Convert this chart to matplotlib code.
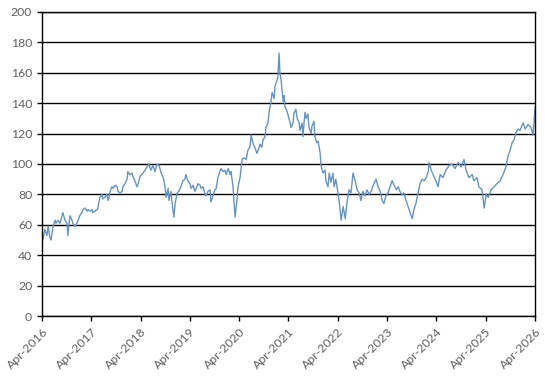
import numpy as np
import pandas as pd
import matplotlib
matplotlib.use("Agg")
import matplotlib.pyplot as plt
import matplotlib.dates as mdates

# months after Apr-2016 and the value at that point
months = [
    0.0, 0.2, 0.7, 1.2, 1.5, 1.9, 2.2, 2.7, 3.2, 3.4, 3.9, 4.4, 4.9, 5.1, 5.6,
    6.1, 6.3, 6.8, 7.3, 7.5, 8.0, 8.5, 8.8, 9.2, 9.7, 10.0, 10.5, 11.0, 11.2,
    11.7, 12.2, 12.4, 12.9, 13.4, 13.6, 14.1, 14.6, 14.8, 15.3, 15.8, 16.1,
    16.6, 17.0, 17.3, 17.8, 18.3, 18.5, 19.0, 19.5, 19.7, 20.2, 20.7, 20.9,
    21.4, 21.9, 22.1, 22.6, 23.1, 23.4, 23.9, 24.3, 24.6,
    25.1, 25.6, 26.0, 26.5, 27.0, 27.5, 28.0, 28.5, 29.0, 29.5, 29.9, 30.2,
    30.7, 30.9, 31.4, 31.6, 32.1, 32.4, 32.9, 33.3, 33.8, 34.3, 34.8, 35.0,
    35.5, 36.0, 36.3, 36.8, 37.2, 37.5, 38.0, 38.5, 38.7, 39.2, 39.7, 39.9,
    40.4, 40.9, 41.1, 41.6, 42.1, 42.4, 42.8, 43.3, 43.6, 44.1, 44.5, 44.8,
    45.3, 45.8, 46.0, 46.5, 46.7, 47.0, 47.5, 47.7, 48.2,
    48.7, 49.2, 49.7, 50.1, 50.6, 50.9, 51.4, 51.8, 52.3, 52.6, 53.1, 53.5,
    53.8, 54.3, 54.5, 55.0, 55.3, 55.7, 56.0, 56.5, 56.7, 57.2, 57.4, 57.7,
    57.9, 58.2, 58.4, 58.7, 58.9, 59.1, 59.6, 59.9, 60.4, 60.6, 61.1, 61.3,
    61.8, 62.1, 62.6, 62.8, 63.3, 63.5, 64.0, 64.3, 64.7, 65.0, 65.5, 65.7,
    66.2, 66.4, 66.9, 67.2, 67.7, 67.9, 68.4, 68.9, 69.1, 69.6, 69.9, 70.3,
    70.8, 71.1,
    71.5, 71.8, 72.3, 72.8, 73.3, 73.8, 74.2, 74.7, 75.2, 75.7, 76.2, 76.7,
    77.2, 77.6, 78.1, 78.6, 79.1, 79.6, 80.1, 80.6, 81.3, 81.8, 82.3, 82.8,
    83.2, 83.7, 84.2, 84.7, 85.2, 85.7, 86.2, 86.7, 87.1, 87.6, 88.1, 88.6,
    89.1, 89.6, 90.1, 90.5, 91.0, 91.5, 92.0, 92.5, 93.0, 93.5, 94.0, 94.2,
    94.7, 95.2, 95.7,
    96.4, 96.9, 97.6, 98.3, 99.1, 99.8, 100.5, 101.3, 102.0, 102.7, 103.2,
    103.9, 104.7, 105.1, 105.9, 106.3, 107.1, 107.6, 108.1, 108.6, 109.3,
    110.0, 110.7, 111.5, 112.2, 112.9, 113.4, 113.9, 114.4, 114.9, 115.4,
    115.9, 116.3, 117.1, 117.6, 118.3, 119.0, 119.5, 120.0,
]
values = [
    55, 50, 57, 53, 59, 52, 50, 59, 63, 61, 63, 61, 66, 68, 63,
    61, 53, 66, 63, 61, 59, 61, 63, 66, 68, 70, 71, 69, 70,
    69, 70, 68, 69, 70, 71, 78, 80, 77, 78, 80, 76,
    82, 85, 84, 86, 85, 82, 81, 82, 85, 87, 90, 95,
    93, 94, 92, 89, 85, 87, 92, 93, 94,
    96, 98, 100, 96, 99, 95, 100, 99, 94, 91, 86, 78,
    84, 76, 82, 76, 65, 74, 81, 82, 85, 89, 90, 93,
    89, 87, 84, 86, 82, 84, 87, 86, 84, 85, 80, 79,
    82, 83, 75, 79, 83, 84, 91, 95, 97, 95, 96, 93,
    97, 93, 95, 85, 76, 65, 78, 85, 91,
    103, 104, 103, 109, 111, 119, 113, 111, 107, 109, 113, 111,
    116, 118, 124, 127, 135, 140, 147, 143, 151, 155, 157, 173,
    160, 155, 149, 141, 145, 138, 135, 132, 127, 124, 127, 133,
    136, 130, 127, 122, 127, 118, 134, 130, 133, 124, 120, 125,
    128, 118, 114, 115, 107, 99, 94, 96, 89, 85, 94, 88,
    94, 85,
    90, 85, 76, 63, 72, 64, 74, 83, 81, 94, 89, 83,
    81, 76, 82, 79, 83, 80, 82, 86, 90, 85, 82, 76,
    74, 79, 81, 85, 89, 86, 83, 85, 82, 80, 81, 76,
    72, 68, 64, 70, 74, 81, 87, 90, 89, 91, 95, 101,
    96, 93, 90,
    85, 93, 91, 96, 99, 100, 97, 101, 98, 103, 96,
    91, 93, 89, 91, 85, 83, 71, 80, 78, 83,
    85, 87, 89, 93, 98, 105, 109, 114, 116, 121,
    123, 122, 127, 123, 126, 124, 119, 137,
]

start = pd.Timestamp("2016-04-01")
dates = start + pd.to_timedelta(np.array(months) * 30.4375, unit="D")
tick_dates = pd.date_range("2016-04-01", "2026-04-01", freq="12MS")

plt.rcParams["font.family"] = ["Lato", "DejaVu Sans"]

fig = plt.figure(figsize=(5.45, 3.81), dpi=100)
ax = fig.add_axes([0.077, 0.1706, 0.9047, 0.798])

ax.plot(dates, values, color="#6494c4", linewidth=1.0)

ax.set_ylim(0, 200)
ax.set_yticks(range(0, 201, 20))
ax.set_xlim(tick_dates[0], tick_dates[-1])
ax.set_xticks(tick_dates)
ax.xaxis.set_major_formatter(mdates.DateFormatter("%b-%Y"))

ax.grid(axis="y", color="black", linewidth=1.0)
ax.set_axisbelow(True)
for s in ax.spines.values():
    s.set_color("black")
    s.set_linewidth(1.0)

ax.tick_params(axis="both", colors="black", labelcolor="#606060",
               labelsize=8.8, length=3.5, width=1.0, direction="out")
plt.setp(ax.get_xticklabels(), rotation=45, ha="right", rotation_mode="anchor")

fig.savefig("out.png", dpi=100)
